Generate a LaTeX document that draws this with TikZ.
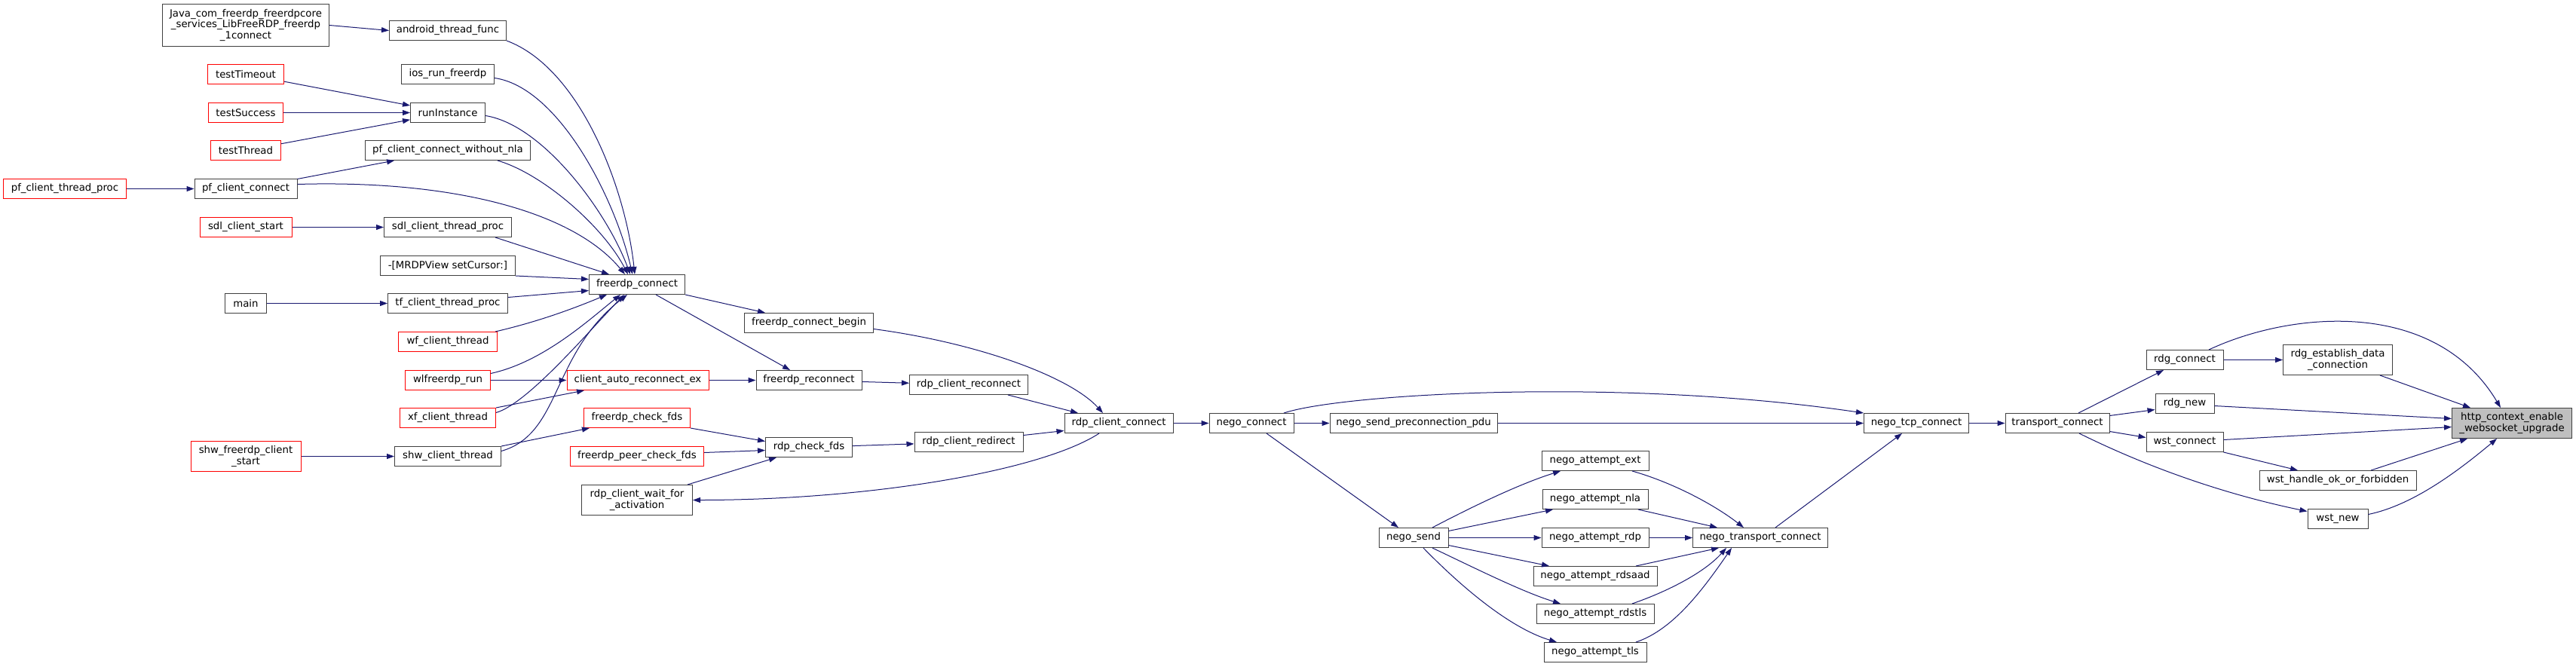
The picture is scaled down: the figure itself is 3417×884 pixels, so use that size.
\documentclass[tikz,border=0pt]{standalone}
\usepackage{fontspec}
\setmainfont{DejaVu Sans}
\usepackage{tikz}
\usetikzlibrary{arrows.meta}
\definecolor{dxgrey}{RGB}{64,64,64}
\definecolor{dxred}{RGB}{255,0,0}
\definecolor{dxnavy}{RGB}{25,25,112}
\definecolor{dxfill}{RGB}{191,191,191}
\tikzstyle{func} = [rectangle, minimum height=26pt, inner xsep=3pt, inner ysep=1pt, align=center, draw=dxgrey, fill=white, line width=1pt]
\tikzstyle{functrunc} = [func, draw=dxred]
\tikzstyle{funcroot} = [func, fill=dxfill]
\tikzstyle{arrow} = [line width=1pt,->,>={Stealth[inset=0pt,length=10pt,width=7pt]},color=dxnavy]

\begin{document}
\begin{tikzpicture}[x=1pt, y=-1pt, font=\fontsize{13.3}{14.5}\selectfont]
\useasboundingbox (0,0) rectangle (3417,884);
\begin{scope}[shift={(0,0.5)}]
% callers far left
\node[functrunc, minimum width=163pt] (pfproc) at (86,250) {pf\_client\_thread\_proc};
\node[func, minimum width=221pt, minimum height=56pt] (java) at (326,33) {Java\_com\_freerdp\_freerdpcore\\\_services\_LibFreeRDP\_freerdp\\\_1connect};
\node[functrunc, minimum width=101pt] (ttimeout) at (326,98) {testTimeout};
\node[functrunc, minimum width=99pt] (tsuccess) at (326,149) {testSuccess};
\node[functrunc, minimum width=93pt] (tthread) at (326,199) {testThread};
\node[func, minimum width=136pt] (pfconn) at (326,250) {pf\_client\_connect};
\node[functrunc, minimum width=122pt] (sdlstart) at (326,301) {sdl\_client\_start};
\node[func, minimum width=55pt] (main) at (326,402) {main};
\node[functrunc, minimum width=146pt, minimum height=40pt] (shwstart) at (326,605) {shw\_freerdp\_client\\\_start};

% client entry points
\node[func, minimum width=155pt] (android) at (594,40) {android\_thread\_func};
\node[func, minimum width=123pt] (ios) at (594,98) {ios\_run\_freerdp};
\node[func, minimum width=99pt] (runinst) at (594,149) {runInstance};
\node[func, minimum width=219pt] (pfnonla) at (594,199) {pf\_client\_connect\_without\_nla};
\node[func, minimum width=169pt] (sdlproc) at (594,301) {sdl\_client\_thread\_proc};
\node[func, minimum width=179pt] (mrdp) at (594,352) {-[MRDPView setCursor:]};
\node[func, minimum width=159pt] (tfproc) at (594,402) {tf\_client\_thread\_proc};
\node[functrunc, minimum width=131pt] (wfthread) at (594,453) {wf\_client\_thread};
\node[functrunc, minimum width=113pt] (wlrun) at (594,504) {wlfreerdp\_run};
\node[functrunc, minimum width=127pt] (xfthread) at (594,554) {xf\_client\_thread};
\node[func, minimum width=141pt] (shwthread) at (594,605) {shw\_client\_thread};

% core
\node[func, minimum width=127pt] (fconn) at (845,377) {freerdp\_connect};
\node[functrunc, minimum width=188pt] (autorec) at (846,504) {client\_auto\_reconnect\_ex};
\node[functrunc, minimum width=141pt] (fcheck) at (845,554) {freerdp\_check\_fds};
\node[functrunc, minimum width=177pt] (fpeer) at (845,605) {freerdp\_peer\_check\_fds};
\node[func, minimum width=147pt, minimum height=40pt] (waitact) at (845,663) {rdp\_client\_wait\_for\\\_activation};
\node[func, minimum width=171pt] (cbegin) at (1073,428) {freerdp\_connect\_begin};
\node[func, minimum width=140pt] (frecon) at (1073,504) {freerdp\_reconnect};
\node[func, minimum width=115pt] (checkfds) at (1073,593) {rdp\_check\_fds};
\node[func, minimum width=157pt] (crecon) at (1285,510) {rdp\_client\_reconnect};
\node[func, minimum width=144pt] (credir) at (1285,586) {rdp\_client\_redirect};
\node[func, minimum width=144pt] (rdpconn) at (1484,561) {rdp\_client\_connect};

% negotiation
\node[func, minimum width=112pt] (negoconn) at (1660,561) {nego\_connect};
\node[func, minimum width=222pt] (preconn) at (1875,561) {nego\_send\_preconnection\_pdu};
\node[func, minimum width=92pt] (negosend) at (1875,713) {nego\_send};
\node[func, minimum width=142pt] (attext) at (2116,611) {nego\_attempt\_ext};
\node[func, minimum width=140pt] (attnla) at (2116,662) {nego\_attempt\_nla};
\node[func, minimum width=142pt] (attrdp) at (2116,713) {nego\_attempt\_rdp};
\node[func, minimum width=164pt] (attaad) at (2116,764) {nego\_attempt\_rdsaad};
\node[func, minimum width=156pt] (attrdstls) at (2116,814) {nego\_attempt\_rdstls};
\node[func, minimum width=136pt] (atttls) at (2116,865) {nego\_attempt\_tls};
\node[func, minimum width=179pt] (transconn) at (2335,713) {nego\_transport\_connect};
\node[func, minimum width=139pt] (tcpconn) at (2542,561) {nego\_tcp\_connect};

% transport and gateway
\node[func, minimum width=138pt] (tconn) at (2729,561) {transport\_connect};
\node[func, minimum width=102pt] (rdgconn) at (2898,477) {rdg\_connect};
\node[func, minimum width=78pt] (rdgnew) at (2898,535) {rdg\_new};
\node[func, minimum width=102pt] (wstconn) at (2898,586) {wst\_connect};
\node[func, minimum width=145pt, minimum height=40pt] (rdgdata) at (3101,477) {rdg\_establish\_data\\\_connection};
\node[func, minimum width=208pt] (wsthandle) at (3101,637) {wst\_handle\_ok\_or\_forbidden};
\node[func, minimum width=80pt] (wstnew) at (3101,688) {wst\_new};
\node[funcroot, minimum width=159pt, minimum height=40pt] (http) at (3332,561) {http\_context\_enable\\\_websocket\_upgrade};

% left feeders
\draw[arrow] (java.east) -- (android.west);
\draw[arrow] (ttimeout) -- (runinst);
\draw[arrow] (tsuccess) -- (runinst);
\draw[arrow] (tthread) -- (runinst);
\draw[arrow] (pfproc) -- (pfconn);
\draw[arrow] (pfconn) -- (pfnonla);
\draw[arrow] (sdlstart) -- (sdlproc);
\draw[arrow] (main) -- (tfproc);
\draw[arrow] (shwstart) -- (shwthread);

% fan into freerdp_connect
\draw[arrow] (android.south east) .. controls (770,90) and (830,250) .. ([xshift=-3pt]fconn.north);
\draw[arrow] ([yshift=-5pt]ios.east) .. controls (740,115) and (815,260) .. ([xshift=-6pt]fconn.north);
\draw[arrow] ([yshift=-4pt]runinst.east) .. controls (720,165) and (805,280) .. ([xshift=-9pt]fconn.north);
\draw[arrow] ([xshift=66pt]pfnonla.south) .. controls (720,230) and (800,300) .. ([xshift=-12pt]fconn.north);
\draw[arrow] ([yshift=6pt]pfconn.east) .. controls (600,238) and (760,280) .. ([xshift=-16pt]fconn.north);
\draw[arrow] ([xshift=63pt]sdlproc.south) -- ([xshift=-37pt]fconn.north);
\draw[arrow] (mrdp.south east) -- ([yshift=7pt]fconn.west);
\draw[arrow] ([yshift=8pt]tfproc.east) -- ([yshift=-8pt]fconn.west);
\draw[arrow] ([xshift=63pt]wfthread.north) .. controls (720,425) and (770,405) .. ([xshift=-40pt]fconn.south);
\draw[arrow] ([yshift=9pt]wlrun.east) .. controls (720,480) and (780,425) .. ([xshift=-22pt]fconn.south);
\draw[arrow] ([yshift=7pt]xfthread.east) .. controls (700,535) and (780,440) .. ([xshift=-17pt]fconn.south);
\draw[arrow] ([yshift=7pt]shwthread.east) .. controls (745,575) and (730,470) .. ([xshift=-13pt]fconn.south);
\draw[arrow] (wlrun) -- (autorec);
\draw[arrow] (xfthread.north east) -- ([xshift=-71pt]autorec.south);
\draw[arrow] (shwthread.north east) -- ([xshift=-63pt]fcheck.south);

% core calls
\draw[arrow] (fconn.south east) -- ([xshift=-58pt]cbegin.north);
\draw[arrow] ([xshift=25pt]fconn.south) -- ([xshift=-25pt]frecon.north);
\draw[arrow] (autorec) -- (frecon);
\draw[arrow] (fcheck.south east) -- ([yshift=8pt]checkfds.west);
\draw[arrow] ([yshift=5pt]fpeer.east) -- ([yshift=-4pt]checkfds.west);
\draw[arrow] ([xshift=67pt]waitact.north) -- ([xshift=-43pt]checkfds.south);
\draw[arrow] ([xshift=-26pt]rdpconn.south) .. controls (1380,625) and (1150,663) .. (waitact.east);
\draw[arrow] ([yshift=-8pt]cbegin.east) .. controls (1300,455) and (1420,500) .. ([xshift=-21pt]rdpconn.north);
\draw[arrow] (frecon) -- (crecon);
\draw[arrow] ([xshift=52pt]crecon.south) -- ([xshift=-54pt]rdpconn.north);
\draw[arrow] (checkfds) -- (credir);
\draw[arrow] ([yshift=9pt]credir.east) -- ([yshift=-10pt]rdpconn.west);
\draw[arrow] (rdpconn) -- (negoconn);

% negotiation calls
\draw[arrow] (negoconn) -- (preconn);
\draw[arrow] ([xshift=43pt]negoconn.north) .. controls (1780,522) and (2150,500) .. (tcpconn.north west);
\draw[arrow] (preconn) -- (tcpconn);
\draw[arrow] ([xshift=20pt]negoconn.south) -- ([xshift=-20pt]negosend.north);
\draw[arrow] ([xshift=25pt]negosend.north) .. controls (1960,668) and (2020,640) .. ([xshift=-46pt]attext.south);
\draw[arrow] ([yshift=9pt]negosend.east) -- ([xshift=-56pt]attnla.south);
\draw[arrow] (negosend) -- (attrdp);
\draw[arrow] ([yshift=-10pt]negosend.east) -- ([xshift=-61pt]attaad.north);
\draw[arrow] ([xshift=25pt]negosend.south) .. controls (1960,755) and (2020,785) .. ([xshift=-46pt]attrdstls.north);
\draw[arrow] ([xshift=13pt]negosend.south) .. controls (1950,790) and (2010,835) .. ([xshift=-51pt]atttls.north);
\draw[arrow] ([xshift=49pt]attext.south) .. controls (2220,640) and (2275,670) .. ([xshift=-22pt]transconn.north);
\draw[arrow] ([xshift=57pt]attnla.south) -- ([xshift=-57pt]transconn.north);
\draw[arrow] (attrdp) -- (transconn);
\draw[arrow] ([xshift=54pt]attaad.north) -- ([xshift=-55pt]transconn.south);
\draw[arrow] ([xshift=49pt]attrdstls.north) .. controls (2210,785) and (2260,760) .. ([xshift=-45pt]transconn.south);
\draw[arrow] ([xshift=54pt]atttls.north) .. controls (2220,835) and (2260,780) .. ([xshift=-38pt]transconn.south);
\draw[arrow] ([xshift=20pt]transconn.north) -- ([xshift=-19pt]tcpconn.south);
\draw[arrow] (tcpconn) -- (tconn);

% transport calls
\draw[arrow] ([xshift=28pt]tconn.north) -- ([xshift=-28pt]rdgconn.south);
\draw[arrow] ([yshift=10pt]tconn.east) -- ([yshift=-8pt]rdgnew.west);
\draw[arrow] ([yshift=-11pt]tconn.east) -- ([yshift=6pt]wstconn.west);
\draw[arrow] ([xshift=29pt]tconn.south) .. controls (2850,620) and (2950,655) .. ([yshift=10pt]wstnew.west);
\draw[arrow] (rdgconn) -- (rdgdata);
\draw[arrow] ([xshift=32pt]rdgconn.north) .. controls (3040,412) and (3230,395) .. ([xshift=-15pt]http.north);
\draw[arrow] ([xshift=56pt]rdgdata.south) -- ([xshift=-55pt]http.north);
\draw[arrow] ([yshift=-3pt]rdgnew.east) -- ([yshift=6pt]http.west);
\draw[arrow] ([yshift=3pt]wstconn.east) -- ([yshift=-5pt]http.west);
\draw[arrow] (wstconn.south east) -- ([xshift=-53pt]wsthandle.north);
\draw[arrow] ([xshift=44pt]wsthandle.north) -- ([xshift=-59pt]http.south);
\draw[arrow] ([yshift=6pt]wstnew.east) .. controls (3200,670) and (3260,625) .. ([xshift=-20pt]http.south);
\end{scope}
\end{tikzpicture}
\end{document}
